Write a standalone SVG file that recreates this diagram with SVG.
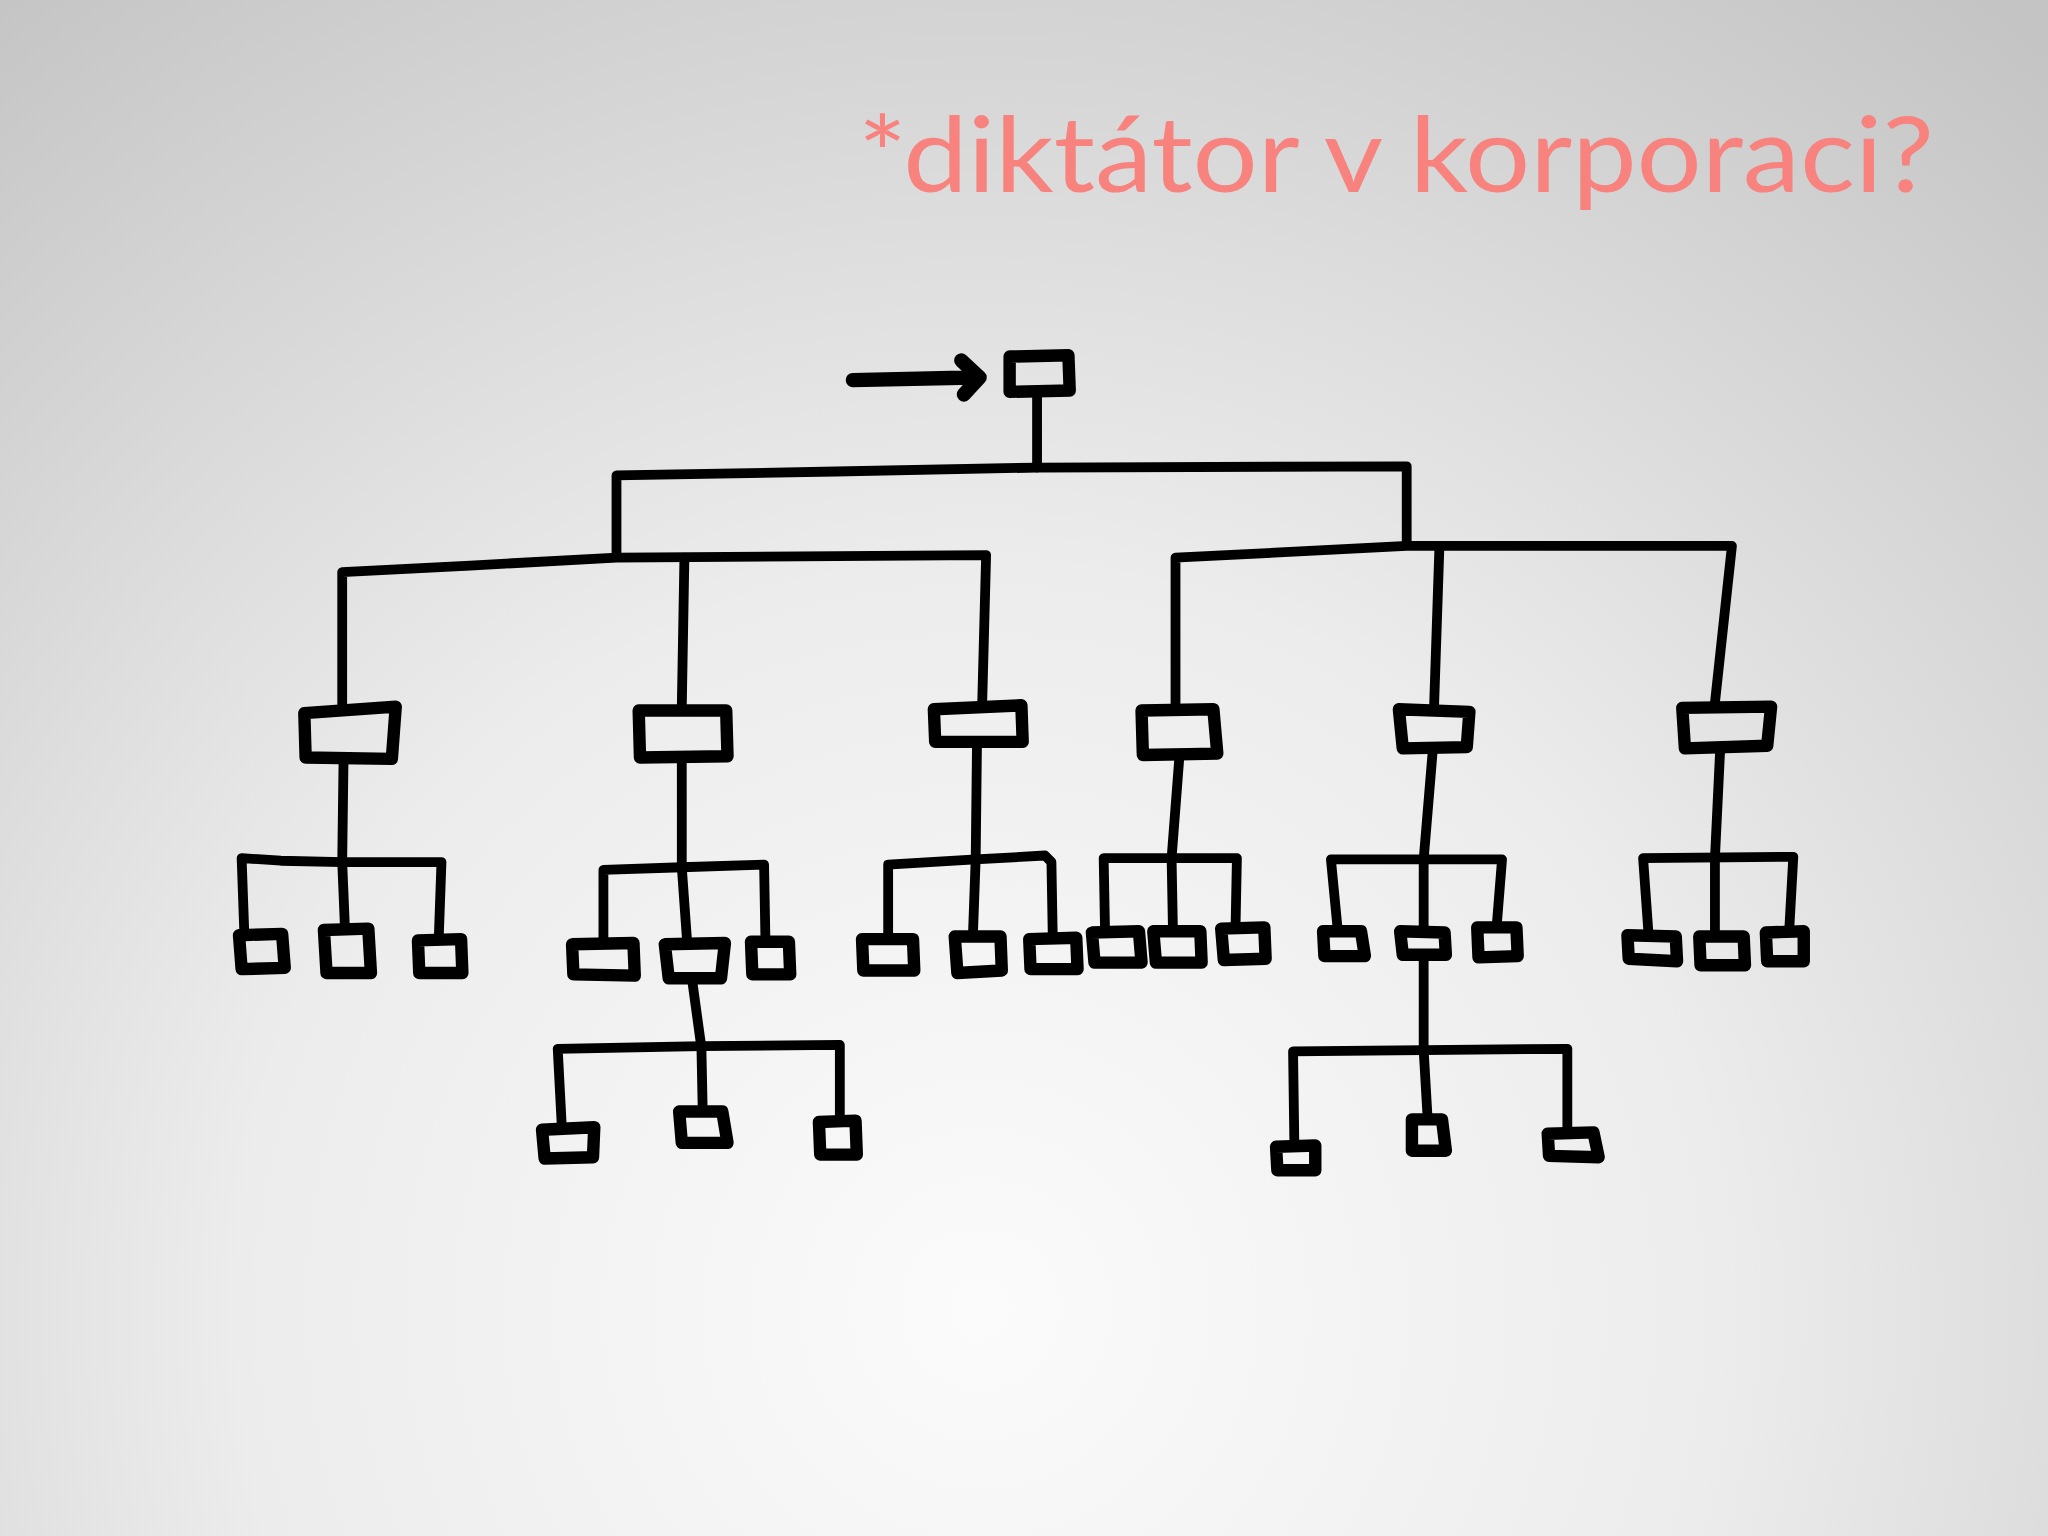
<svg xmlns="http://www.w3.org/2000/svg" width="2048" height="1536" viewBox="0 0 2048 1536">
<defs>
<radialGradient id="bg" cx="980" cy="1310" r="1650" gradientUnits="userSpaceOnUse">
<stop offset="0" stop-color="#fbfbfb"/>
<stop offset="0.45" stop-color="#ececec"/>
<stop offset="1" stop-color="#c4c4c4"/>
</radialGradient>
<style>
.ln{fill:none;stroke:#000;stroke-width:7.5;stroke-linecap:round;stroke-linejoin:round}
.bx{fill:none;stroke:#000;stroke-width:9.5;stroke-linecap:round;stroke-linejoin:round}
.ar{fill:none;stroke:#000;stroke-width:11;stroke-linecap:round;stroke-linejoin:round}
.title{font-family:Lato,"Open Sans","Liberation Sans",sans-serif;font-size:104px;fill:#F7827E}
</style>
</defs>
<rect width="2048" height="1536" fill="url(#bg)"/>
<text class="title" x="858" y="192" textLength="1076" lengthAdjust="spacingAndGlyphs">*diktátor v korporaci?</text>
<g transform="scale(1.30612)">
<g id="connectors">
<path class="ar" d="M653 291 L745 289 M736 276 L750 289 L738 302"/>
<path class="ln" d="M794 302 L794 358"/>
<path class="ln" d="M472 425 L472 364 L640 361 L794 358 L1077 357 L1077 415"/>
<path class="ln" d="M262 541 L262 438 L360 433 L472 427 L755 425 L752 538"/>
<path class="ln" d="M524 427 L522 541"/>
<path class="ln" d="M900 541 L900 427 L1077 418 L1326 418 L1313 538"/>
<path class="ln" d="M1102 420 L1098 540"/>
<path class="ln" d="M263 583 L262 660"/>
<path class="ln" d="M187 713 L185 657 L215 659 L262 660 L338 660 L336 716"/>
<path class="ln" d="M262 660 L264 708"/>
<path class="ln" d="M522 581 L522 664"/>
<path class="ln" d="M462 720 L462 666 L522 664 L585 662 L586 718"/>
<path class="ln" d="M522 664 L526 720"/>
<path class="ln" d="M530 751 L537 802"/>
<path class="ln" d="M430 860 L427 803 L537 801 L643 800 L643 856"/>
<path class="ln" d="M537 801 L538 850"/>
<path class="ln" d="M748 570 L747 658"/>
<path class="ln" d="M680 716 L680 662 L747 658 L800 655 L805 660 L806 716"/>
<path class="ln" d="M747 658 L745 713"/>
<path class="ln" d="M903 579 L897 657"/>
<path class="ln" d="M846 710 L845 657 L947 657 L946 708"/>
<path class="ln" d="M897 657 L898 710"/>
<path class="ln" d="M1097 574 L1090 658"/>
<path class="ln" d="M1024 710 L1019 658 L1150 658 L1146 708"/>
<path class="ln" d="M1090 658 L1090 710"/>
<path class="ln" d="M1090 733 L1090 805"/>
<path class="ln" d="M991 876 L990 805 L1090 804 L1200 803 L1200 866"/>
<path class="ln" d="M1090 804 L1093 856"/>
<path class="ln" d="M1317 574 L1313 657"/>
<path class="ln" d="M1262 713 L1258 657 L1373 656 L1370 710"/>
<path class="ln" d="M1313 657 L1313 713"/>
</g>
<g id="n-root"><path class="bx" d="M773 273 L818 272 L819 299 L773 300 Z"/></g>
<g id="n-a"><path class="bx" d="M233 546 L303 541 L300 581 L234 580 Z"/></g>
<g id="n-b"><path class="bx" d="M489 544 L556 544 L557 579 L490 580 Z"/></g>
<g id="n-c"><path class="bx" d="M715 543 L782 540 L783 568 L716 568 Z"/></g>
<g id="n-d"><path class="bx" d="M874 544 L929 543 L932 577 L875 578 Z"/></g>
<g id="n-e"><path class="bx" d="M1071 543 L1125 545 L1123 572 L1074 573 Z"/></g>
<g id="n-f"><path class="bx" d="M1288 542 L1356 541 L1353 571 L1290 573 Z"/></g>
<g id="n-a1"><path class="bx" d="M183 716 L216 715 L218 741 L185 742 Z"/></g>
<g id="n-a2"><path class="bx" d="M248 712 L282 711 L284 745 L250 745 Z"/></g>
<g id="n-a3"><path class="bx" d="M320 720 L353 719 L354 745 L321 745 Z"/></g>
<g id="n-b1"><path class="bx" d="M438 723 L485 722 L486 747 L439 746 Z"/></g>
<g id="n-b2"><path class="bx" d="M509 723 L555 722 L552 749 L512 749 Z"/></g>
<g id="n-b3"><path class="bx" d="M575 721 L604 721 L605 746 L576 746 Z"/></g>
<g id="n-b21"><path class="bx" d="M415 865 L455 863 L454 886 L417 887 Z"/></g>
<g id="n-b22"><path class="bx" d="M520 851 L553 851 L557 875 L522 875 Z"/></g>
<g id="n-b23"><path class="bx" d="M627 859 L655 858 L656 884 L628 884 Z"/></g>
<g id="n-c1"><path class="bx" d="M660 719 L699 719 L700 743 L661 743 Z"/></g>
<g id="n-c2"><path class="bx" d="M731 717 L766 717 L767 743 L733 745 Z"/></g>
<g id="n-c3"><path class="bx" d="M788 719 L824 718 L825 742 L789 742 Z"/></g>
<g id="n-d1"><path class="bx" d="M836 714 L872 713 L874 737 L838 737 Z"/></g>
<g id="n-d2"><path class="bx" d="M883 713 L919 713 L920 737 L885 737 Z"/></g>
<g id="n-d3"><path class="bx" d="M935 711 L968 710 L969 734 L937 735 Z"/></g>
<g id="n-e1"><path class="bx" d="M1013 713 L1042 713 L1045 732 L1014 732 Z"/></g>
<g id="n-e2"><path class="bx" d="M1072 713 L1106 714 L1107 731 L1074 731 Z"/></g>
<g id="n-e3"><path class="bx" d="M1131 710 L1161 710 L1162 732 L1132 733 Z"/></g>
<g id="n-e21"><path class="bx" d="M977 878 L1007 877 L1007 896 L978 896 Z"/></g>
<g id="n-e22"><path class="bx" d="M1081 857 L1104 857 L1107 881 L1081 881 Z"/></g>
<g id="n-e23"><path class="bx" d="M1185 868 L1220 867 L1224 886 L1186 885 Z"/></g>
<g id="n-f1"><path class="bx" d="M1246 716 L1283 717 L1284 736 L1247 734 Z"/></g>
<g id="n-f2"><path class="bx" d="M1301 717 L1335 717 L1336 739 L1302 739 Z"/></g>
<g id="n-f3"><path class="bx" d="M1352 714 L1381 713 L1381 736 L1353 736 Z"/></g>
</g>
</svg>
